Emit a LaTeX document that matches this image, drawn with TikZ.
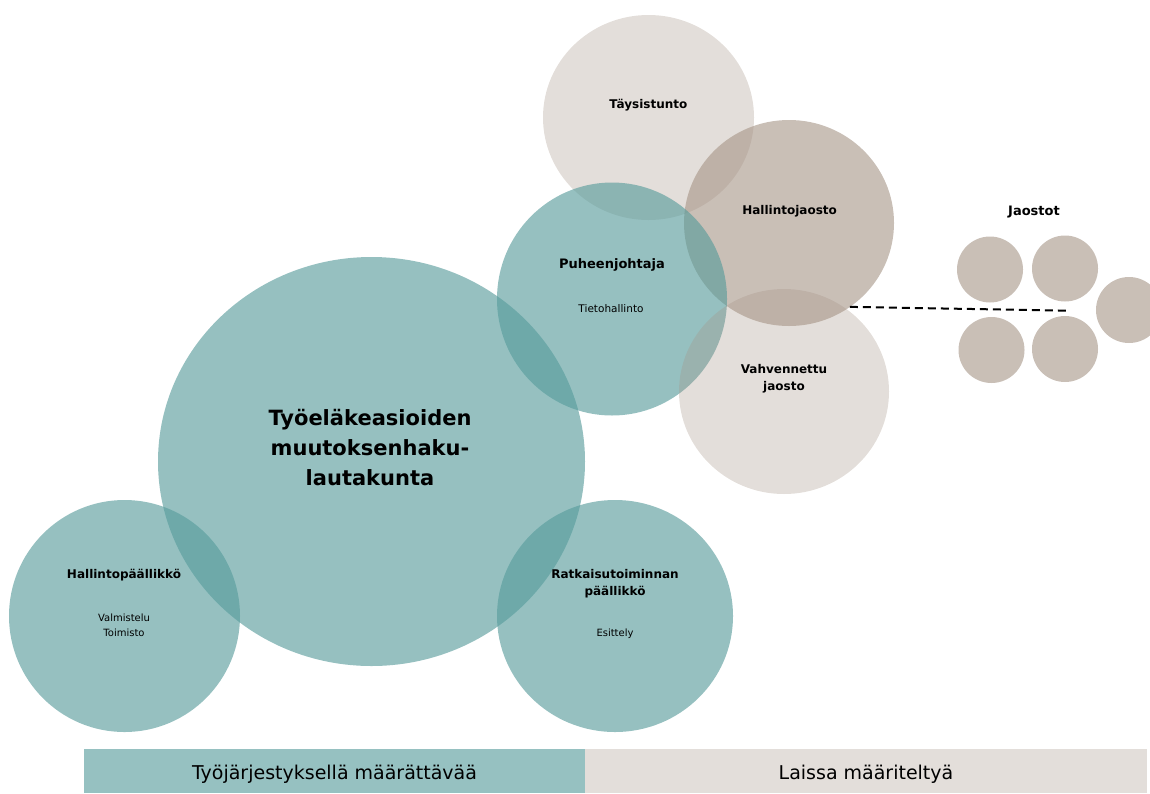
\documentclass[tikz,border=0pt]{standalone}
\usepackage{fontspec}
\setmainfont{DejaVu Sans}
\usetikzlibrary{shapes.geometric}
\definecolor{lautateal}{RGB}{85,154,154}
\definecolor{jaostotaupe}{RGB}{165,148,134}
\definecolor{palkkiteal}{RGB}{150,193,193}
\definecolor{palkkibeige}{RGB}{227,222,218}
\begin{document}
\begin{tikzpicture}
  [x=1pt,y=-1pt,every node/.style={inner sep=0pt,outer sep=0pt}]
  \tikzstyle{lauta} = [ellipse,fill=lautateal,fill opacity=0.62]
  \tikzstyle{jaosto} = [ellipse,fill=jaostotaupe,fill opacity=0.6]
  \tikzstyle{vaalea} = [ellipse,fill=jaostotaupe,fill opacity=0.31]
  \tikzstyle{otsikko} = [anchor=base,align=center,font=\bfseries\fontsize{12}{17}\selectfont]
  \tikzstyle{teksti} = [anchor=base,align=center,font=\fontsize{10}{15}\selectfont]
  \tikzstyle{palkki} = [minimum height=44pt,text height=20pt,text depth=2.8pt,font=\fontsize{19}{23}\selectfont]
  \useasboundingbox (0,0) rectangle (1150,793);
  % lautakunta ja esittelijat
  \node[lauta,minimum width=427pt,minimum height=409pt] (tela) at (371.5,461.5) {};
  \node[lauta,minimum width=231pt,minimum height=232pt] (hpaal) at (124.5,616) {};
  \node[lauta,minimum width=236pt,minimum height=232pt] (rpaal) at (615,616) {};
  % kokoonpanot
  \node[vaalea,minimum width=211pt,minimum height=205pt] (taysi) at (648.5,117.5) {};
  \node[jaosto,minimum width=210pt,minimum height=206pt] (hjaosto) at (789,223) {};
  \node[lauta,minimum width=230pt,minimum height=233pt] (pj) at (612,299) {};
  \node[vaalea,minimum width=210pt,minimum height=205pt] (vjaosto) at (784,391.5) {};
  \foreach \nimi/\x/\y in {j1/990/269.5,j2/1065/268.5,j3/1129/310,j4/991.5/350,j5/1065/349}
    \node[jaosto,minimum size=66pt] (\nimi) at (\x,\y) {};
  \coordinate (jpaa) at (1070,310.7);
  \draw[black,line width=2pt,dash pattern=on 8pt off 5pt] (hjaosto.-54) -- (jpaa);
  % tekstit (monirivisissa base = viimeinen rivi)
  \node[otsikko,font=\bfseries\fontsize{21}{30}\selectfont] (telat) at (370,485) {Työeläkeasioiden\\muutoksenhaku-\\lautakunta};
  \node[otsikko] (hpaalt) at (124,578.7) {Hallintopäällikkö};
  \node[teksti] (hpaalt2) at (124,636) {Valmistelu\\Toimisto};
  \node[otsikko] (rpaalt) at (615,595) {Ratkaisutoiminnan\\päällikkö};
  \node[teksti] (rpaalt2) at (615,636.5) {Esittely};
  \node[otsikko] (taysit) at (648.4,108.3) {Täysistunto};
  \node[otsikko] (hjaostot) at (789.6,214.3) {Hallintojaosto};
  \node[otsikko,font=\bfseries\fontsize{13}{17}\selectfont] (jaostott) at (1034,215) {Jaostot};
  \node[otsikko,font=\bfseries\fontsize{13}{17}\selectfont] (pjt) at (612,268.7) {Puheenjohtaja};
  \node[teksti,font=\fontsize{10.5}{15}\selectfont] (pjt2) at (611,312.3) {Tietohallinto};
  \node[otsikko] (vjaostot) at (784,390.7) {Vahvennettu\\jaosto};
  % palkit
  \node[palkki,fill=palkkiteal,minimum width=501pt] (tyoj) at (334.5,771) {Työjärjestyksellä määrättävää};
  \node[palkki,fill=palkkibeige,minimum width=562pt,anchor=west] (laki) at (tyoj.east) {Laissa määriteltyä};
\end{tikzpicture}
\end{document}
